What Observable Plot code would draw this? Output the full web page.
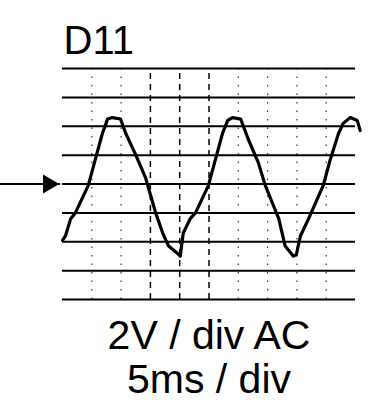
<!DOCTYPE html>
<html>
<head>
<meta charset="utf-8">
<script src="https://cdn.jsdelivr.net/npm/d3@7"></script>
<script src="https://cdn.jsdelivr.net/npm/@observablehq/plot@0.6"></script>
<style>
  html, body { margin: 0; padding: 0; background: #fff; }
  svg { display: block; }
</style>
</head>
<body>
<div id="chart"></div>
<script>
// Trace readings: time (ms) and voltage (V)
const timeMs = [0, 0.5, 1.4, 2.2, 4.4, 5.6, 6.8, 7.7, 8.5, 9.9, 10.8, 12.4, 14.2, 15.4, 15.9, 17.1, 18.1, 19.6, 20.1,
  20.6, 21.8, 22.7, 24.9, 26.1, 27.3, 28.2, 29.0, 30.4, 31.7, 33.4, 34.6, 35.8, 36.9, 38.0, 39.4, 39.9,
  40.6, 42.0, 44.5, 45.7, 47.1, 47.9, 49.1, 50.3, 50.8];
const volts = [-3.9, -3.6, -2.4, -2.0, -0.1, 1.7, 3.5, 4.5, 4.6, 4.5, 3.5, 2.1, 0.4, -1.3, -2.0, -3.4, -4.3, -4.8, -5.0,
  -3.4, -2.4, -2.0, -0.1, 1.7, 3.5, 4.4, 4.6, 4.5, 3.1, 1.5, -0.1, -1.3, -2.4, -4.3, -5.0, -4.9,
  -3.6, -2.4, -0.1, 1.7, 3.5, 4.2, 4.6, 4.4, 3.7];

const gridVolts = [-8, -6, -4, -2, 0, 2, 4, 6, 8];
const majorTimes = [15, 20, 25];
const minorTimes = [5, 10, 30, 35, 40, 45];
const titleLabel = ["D11"];
const captionLines = ["2V / div AC", "5ms / div"];

const trace = timeMs.map((t, i) => ({t, v: volts[i]}));

const font = "'Liberation Sans', Arial, Helvetica, sans-serif";

const chart = Plot.plot({
  width: 391,
  height: 400,
  marginLeft: 62,
  marginRight: 36,
  marginTop: 68,
  marginBottom: 101,
  style: {fontFamily: font, background: "#fff"},
  x: {domain: [0, 50], axis: null},
  y: {domain: [-8, 8], axis: null},
  marks: [
    Plot.ruleX(minorTimes, {y1: -8, y2: 8, stroke: "#000", strokeWidth: 1.2, strokeDasharray: "1.5,7", strokeOpacity: 0.8}),
    Plot.ruleX(majorTimes, {y1: -8, y2: 8, stroke: "#000", strokeWidth: 1.5, strokeDasharray: "6,5"}),
    Plot.ruleY(gridVolts, {x1: 0, x2: 50, stroke: "#000", strokeWidth: 2}),
    Plot.ruleY([0], {x1: -11, x2: -0.3, stroke: "#000", strokeWidth: 2}),
    Plot.dot([{t: -2.4, v: 0}], {x: "t", y: "v", symbol: "triangle", r: 7, rotate: 90, fill: "#000", stroke: "none"}),
    Plot.line(trace, {x: "t", y: "v", stroke: "#000", strokeWidth: 3.2, curve: "linear", strokeLinejoin: "round"}),
    Plot.text(titleLabel, {text: d => d, frameAnchor: "top-left", textAnchor: "start", lineAnchor: "bottom", dx: 1, dy: -15, fontSize: 40, fill: "#000"}),
    Plot.text([captionLines[0]], {text: d => d, frameAnchor: "bottom", textAnchor: "middle", lineAnchor: "bottom", dy: 49, fontSize: 41, fill: "#000"}),
    Plot.text([captionLines[1]], {text: d => d, frameAnchor: "bottom", textAnchor: "middle", lineAnchor: "bottom", dy: 93, fontSize: 41, fill: "#000"})
  ]
});

document.getElementById("chart").appendChild(chart);
</script>
</body>
</html>
